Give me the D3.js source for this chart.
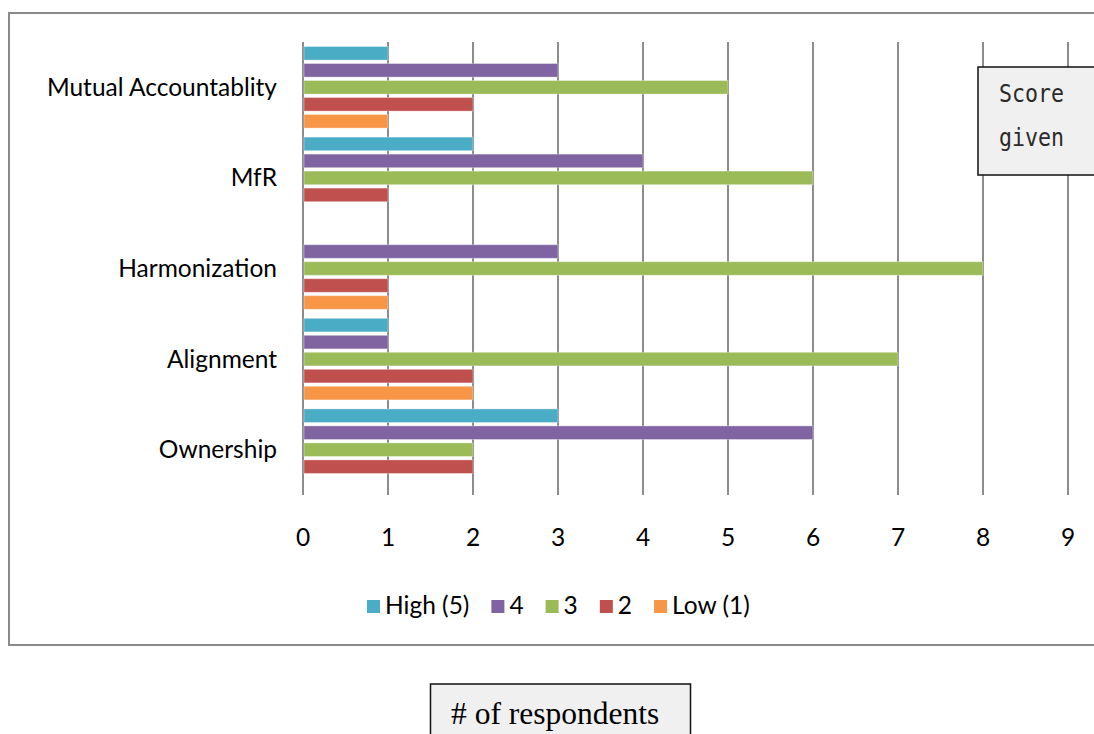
<!DOCTYPE html>
<html>
<head>
<meta charset="utf-8">
<script src="https://cdn.jsdelivr.net/npm/d3@7"></script>
<style>
  html, body { margin: 0; padding: 0; background: #fff; }
  svg { display: block; }
</style>
</head>
<body>
<svg id="chart" width="1094" height="734"></svg>
<script>
// Categories listed top to bottom as drawn
const categories = ["Mutual Accountablity", "MfR", "Harmonization", "Alignment", "Ownership"];
const seriesNames = ["High (5)", "4", "3", "2", "Low (1)"];
const seriesColors = ["#4BACC6", "#8064A2", "#9BBB59", "#C0504D", "#F79646"];

// Number of respondents per score, one array per series (same order as categories)
const high5 = [1, 2, 0, 1, 3];
const score4 = [3, 4, 3, 1, 6];
const score3 = [5, 6, 8, 7, 2];
const score2 = [2, 1, 1, 2, 2];
const low1  = [1, 0, 1, 2, 0];
const tickValues = [0, 1, 2, 3, 4, 5, 6, 7, 8, 9];

const seriesValues = [high5, score4, score3, score2, low1];

const svg = d3.select("#chart");
const font = "Lato, 'Open Sans', sans-serif";
const fontSize = 24.5;

// Outer chart frame
svg.append("rect")
  .attr("x", 9).attr("y", 13)
  .attr("width", 1100).attr("height", 632)
  .attr("fill", "#fff")
  .attr("stroke", "#8a8a8a")
  .attr("stroke-width", 2);

const plot = { left: 303, right: 1068, top: 42, bottom: 495 };

const x = d3.scaleLinear().domain([0, 9]).range([plot.left, plot.right]);
const y0 = d3.scaleBand().domain(categories).range([plot.top, plot.bottom]);
const y1 = d3.scaleBand().domain(seriesNames)
  .range([0, y0.bandwidth()])
  .paddingInner(0.2).paddingOuter(0.265);

// Vertical gridlines
svg.append("g")
  .selectAll("line")
  .data(tickValues)
  .join("line")
  .attr("x1", d => x(d)).attr("x2", d => x(d))
  .attr("y1", plot.top).attr("y2", plot.bottom)
  .attr("stroke", "#8c8c8c")
  .attr("stroke-width", 2);

// Bars
const rows = [];
categories.forEach((c, i) => {
  seriesNames.forEach((s, j) => {
    rows.push({ cat: c, series: s, value: seriesValues[j][i], color: seriesColors[j] });
  });
});

svg.append("g")
  .selectAll("rect")
  .data(rows.filter(d => d.value > 0))
  .join("rect")
  .attr("x", x(0) + 1)
  .attr("y", d => y0(d.cat) + y1(d.series))
  .attr("width", d => x(d.value) - x(0) - 1)
  .attr("height", y1.bandwidth())
  .attr("fill", d => d.color)
  .attr("stroke", "rgba(255,255,255,0.35)")
  .attr("stroke-width", 1);

// Category labels
svg.append("g")
  .selectAll("text")
  .data(categories)
  .join("text")
  .attr("x", 277)
  .attr("y", d => y0(d) + y0.bandwidth() / 2)
  .attr("dy", "0.35em")
  .attr("text-anchor", "end")
  .attr("font-family", font)
  .attr("font-size", fontSize)
  .attr("fill", "#000")
  .text(d => d);

// Value axis labels
svg.append("g")
  .selectAll("text")
  .data(tickValues)
  .join("text")
  .attr("x", d => x(d))
  .attr("y", 546)
  .attr("text-anchor", "middle")
  .attr("font-family", font)
  .attr("font-size", fontSize)
  .attr("fill", "#000")
  .text(d => d);

// Legend
const legend = svg.append("g");
let lx = 367;
seriesNames.forEach((s, j) => {
  legend.append("rect")
    .attr("x", lx).attr("y", 600)
    .attr("width", 13).attr("height", 13)
    .attr("fill", seriesColors[j]);
  const t = legend.append("text")
    .attr("x", lx + 18).attr("y", 614)
    .attr("font-family", font)
    .attr("font-size", fontSize)
    .attr("fill", "#000")
    .text(s);
  lx += 18 + t.node().getComputedTextLength() + 22;
});

// "Score given" note box
svg.append("rect")
  .attr("x", 978).attr("y", 67)
  .attr("width", 130).attr("height", 108)
  .attr("fill", "#f0f0f0")
  .attr("stroke", "#111")
  .attr("stroke-width", 1.5);
const note = svg.append("g")
  .attr("transform", "translate(999,0) scale(0.9,1)")
  .attr("font-family", "'DejaVu Sans Mono', monospace")
  .attr("font-size", 24)
  .attr("fill", "#2a2a2a");
note.append("text").attr("x", 0).attr("y", 102).text("Score");
note.append("text").attr("x", 0).attr("y", 146).text("given");

// Axis title box
svg.append("rect")
  .attr("x", 430.5).attr("y", 684)
  .attr("width", 260).attr("height", 60)
  .attr("fill", "#f0f0f0")
  .attr("stroke", "#111")
  .attr("stroke-width", 1.5);
svg.append("text")
  .attr("x", 451).attr("y", 724)
  .attr("font-family", "'Liberation Serif', 'Times New Roman', serif")
  .attr("font-size", 31.5)
  .attr("fill", "#000")
  .text("# of respondents");
</script>
</body>
</html>
